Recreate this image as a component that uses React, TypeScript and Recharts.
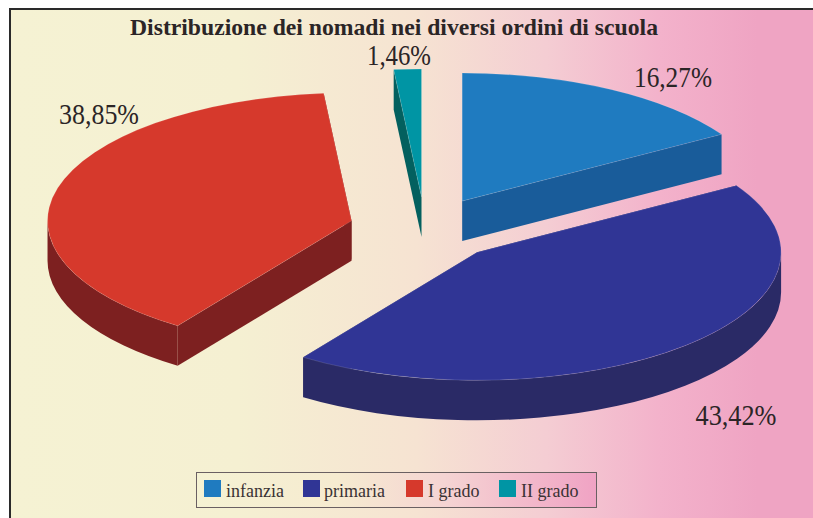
import React from "react";
import { PieChart, Pie, Legend, Cell } from "recharts";

const categories = ["infanzia", "primaria", "I grado", "II grado"];
const shares = [16.27, 43.42, 38.85, 1.46];
const shareLabels = ["16,27%", "43,42%", "38,85%", "1,46%"];
const topColors = ["#1F7BC0", "#303595", "#D6392C", "#0095A4"];
const wallColors = ["#195C9A", "#2A2A66", "#7D2020", "#03605F"];
const labelNudges = [
  [248, -152],
  [311, 186],
  [-326, -115],
  [-26, -174],
];
const labelWidths = [78, 81, 80, 64];
const swatchLefts = [7, 106, 209, 302];
const legendTextLefts = [29, 127, 231, 324];

const title = "Distribuzione dei nomadi nei diversi ordini di scuola";
const rows = categories.map((name, i) => ({ name, value: shares[i], label: shareLabels[i] }));

const W = 813;
const H = 518;
const CX = 425;
const CY = 229;
const R = 304;
const TILT = 128 / 304;
const DEPTH = 40;
const EXPLODE = 0.25;
const GRADIENT = "linear-gradient(90deg,#F5F2D3 0%,#F5F0D2 28%,#F6E3D2 50%,#F4CDD3 66%,#F3B2CB 80%,#EFA4C3 92%,#EFA4C3 100%)";

const rad = (d: number) => (d * Math.PI) / 180;

function SliceShape(props: any) {
  const { cx, cy, outerRadius, startAngle, endAngle, index } = props;
  const rx = outerRadius;
  const ry = outerRadius * TILT;
  const mid = (startAngle + endAngle) / 2;
  const ax = cx + EXPLODE * rx * Math.cos(rad(mid));
  const ay = cy - EXPLODE * ry * Math.sin(rad(mid));
  const pt = (a: number, dy = 0) => [ax + rx * Math.cos(rad(a)), ay - ry * Math.sin(rad(a)) + dy];
  const [sx, sy] = pt(startAngle);
  const [ex, ey] = pt(endAngle);
  const large = startAngle - endAngle > 180 ? 1 : 0;
  const top = `M${ax},${ay}L${sx},${sy}A${rx},${ry} 0 ${large} 1 ${ex},${ey}Z`;
  const startWall = `M${ax},${ay}L${sx},${sy}L${sx},${sy + DEPTH}L${ax},${ay + DEPTH}Z`;
  const endWall = `M${ax},${ay}L${ex},${ey}L${ex},${ey + DEPTH}L${ax},${ay + DEPTH}Z`;
  const fa = Math.min(startAngle, 0);
  const fb = Math.max(endAngle, -180);
  let arcWall = null;
  if (fa > fb) {
    const [p, q] = pt(fa);
    const [r, s] = pt(fb);
    arcWall = `M${p},${q}A${rx},${ry} 0 0 1 ${r},${s}L${r},${s + DEPTH}A${rx},${ry} 0 0 0 ${p},${q + DEPTH}Z`;
  }
  const wall = wallColors[index];
  return (
    <g>
      <path d={startWall} fill={wall} />
      <path d={endWall} fill={wall} />
      {arcWall && <path d={arcWall} fill={wall} />}
      <path d={top} fill={topColors[index]} stroke="rgba(255,255,255,0.22)" strokeWidth={0.6} />
    </g>
  );
}

function SliceLabel(props: any) {
  const { index, cx, cy } = props;
  const [dx, dy] = labelNudges[index];
  return (
    <text
      x={cx + dx}
      y={cy + dy + 10}
      textAnchor="middle"
      fontFamily="'Liberation Serif', serif"
      fontSize={29}
      fill="#2b2526"
      textLength={labelWidths[index]}
      lengthAdjust="spacingAndGlyphs"
    >
      {shareLabels[index]}
    </text>
  );
}

function LegendBox(props: any) {
  const items = [...(props.payload || [])].sort(
    (a: any, b: any) => categories.indexOf(a.value) - categories.indexOf(b.value)
  );
  return (
    <div
      style={{
        position: "relative",
        width: 401,
        height: 36,
        boxSizing: "border-box",
        border: "1.5px solid #6a6062",
        background: "linear-gradient(90deg,#F5F2D3 0%,#F6EBD0 35%,#F5D4D3 62%,#F0A3C4 100%)",
        fontFamily: "'Liberation Serif', serif",
        fontSize: 18,
        color: "#3a3234",
      }}
    >
      {items.map((it: any, i: number) => (
        <React.Fragment key={it.value}>
          <span
            style={{
              position: "absolute",
              left: swatchLefts[i],
              top: 7,
              width: 17,
              height: 17,
              background: it.color,
            }}
          />
          <span style={{ position: "absolute", left: legendTextLefts[i], top: 8, lineHeight: "20px", whiteSpace: "nowrap" }}>
            {it.value}
          </span>
        </React.Fragment>
      ))}
    </div>
  );
}

export default function App() {
  return (
    <div style={{ position: "absolute", left: 0, top: 0, width: W, height: H, background: "#fff", overflow: "hidden" }}>
      <div
        style={{
          position: "absolute",
          left: 9,
          top: 8,
          width: W,
          height: H,
          boxSizing: "border-box",
          borderTop: "2px solid #2a2a2a",
          borderLeft: "2px solid #2a2a2a",
          background: GRADIENT,
        }}
      />
      <PieChart width={W} height={H} style={{ position: "absolute", left: 0, top: 0 }} margin={{ top: 0, right: 0, bottom: 0, left: 0 }}>
        <text
          x={394}
          y={35}
          textAnchor="middle"
          fontFamily="'Liberation Serif', serif"
          fontWeight="bold"
          fontSize={24}
          fill="#2b2526"
          textLength={528}
          lengthAdjust="spacingAndGlyphs"
        >
          {title}
        </text>
        <Pie
          data={rows}
          dataKey="value"
          nameKey="name"
          cx={CX}
          cy={CY}
          innerRadius={0}
          outerRadius={R}
          startAngle={90}
          endAngle={-270}
          stroke="none"
          isAnimationActive={false}
          shape={SliceShape}
          label={SliceLabel}
          labelLine={false}
        >
          {rows.map((r, i) => (
            <Cell key={r.name} fill={topColors[i]} />
          ))}
        </Pie>
        <Legend content={LegendBox} wrapperStyle={{ left: 196, top: 472, bottom: "auto", width: 401, height: 36 }} />
      </PieChart>
    </div>
  );
}
